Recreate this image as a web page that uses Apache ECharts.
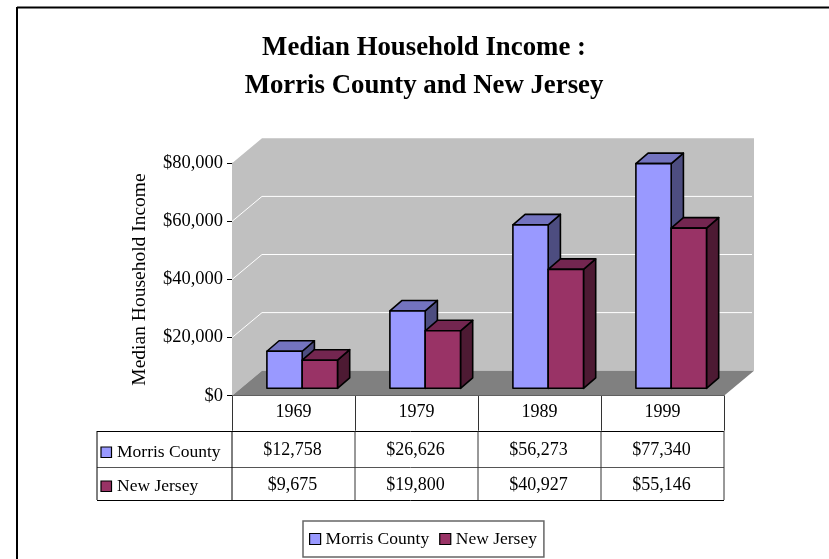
<!DOCTYPE html>
<html>
<head>
<meta charset="utf-8">
<style>html,body{margin:0;padding:0;background:#fff}#main{width:829px;height:559px}</style>
<script src="https://cdn.jsdelivr.net/npm/echarts@6/dist/echarts.min.js"></script>
</head>
<body>
<div id="main"></div>
<script>
var years = ['1969', '1979', '1989', '1999'];
var morris = [12758, 26626, 56273, 77340];
var newJersey = [9675, 19800, 40927, 55146];
var morrisLabels = ['$12,758', '$26,626', '$56,273', '$77,340'];
var jerseyLabels = ['$9,675', '$19,800', '$40,927', '$55,146'];
var gridValues = [20000, 40000, 60000];

var fontName = '"Liberation Serif", "Times New Roman", serif';
var depthX = 30, depthY = 25;
var barDepthX = 12.2, barDepthY = 10.5;
var barShiftX = 8.7, barShiftY = 7.4;
var barWidth = 35.3;
var rowY = [450, 485];

function barRender(side, front, top, dark) {
    return function (params, api) {
        var p = api.coord([api.value(0), api.value(1)]);
        var base = api.coord([api.value(0), 0]);
        var cx = p[0] + barShiftX;
        var x0 = side < 0 ? cx - barWidth : cx;
        var x1 = x0 + barWidth;
        var yt = p[1] - barShiftY;
        var yb = base[1] - barShiftY;
        var line = {stroke: '#000', lineWidth: 1.6, lineJoin: 'round'};
        return {type: 'group', children: [
            {type: 'polygon', shape: {points: [[x1, yt], [x1 + barDepthX, yt - barDepthY], [x1 + barDepthX, yb - barDepthY], [x1, yb]]},
                style: Object.assign({fill: dark}, line)},
            {type: 'polygon', shape: {points: [[x0, yt], [x0 + barDepthX, yt - barDepthY], [x1 + barDepthX, yt - barDepthY], [x1, yt]]},
                style: Object.assign({fill: top}, line)},
            {type: 'rect', shape: {x: x0, y: yt, width: barWidth, height: yb - yt},
                style: Object.assign({fill: front}, line)}
        ]};
    };
}

function wallRender(params, api) {
    var first = api.coord([0, 0]);
    var band = api.size([1, 0])[0];
    var left = first[0] - band / 2;
    var right = left + band * years.length;
    var bottom = first[1];
    var top = api.coord([0, 80000])[1];
    var children = [
        {type: 'polygon', shape: {points: [[left, top], [left + depthX, top - depthY], [right + depthX, top - depthY], [right + depthX, bottom - depthY], [left + depthX, bottom - depthY], [left, bottom]]},
            style: {fill: '#c0c0c0'}},
        {type: 'polygon', shape: {points: [[left, bottom], [left + depthX, bottom - depthY], [right + depthX, bottom - depthY], [right, bottom]]},
            style: {fill: '#808080'}}
    ];
    gridValues.forEach(function (v) {
        var y = api.coord([0, v])[1];
        children.push({type: 'polyline', shape: {points: [[left, y], [left + depthX, y - depthY], [right + depthX - 2, y - depthY]]},
            style: {fill: null, stroke: '#fff', lineWidth: 1}});
    });
    return {type: 'group', children: children};
}

function tableRender(params, api) {
    var i = api.value(0);
    var x = api.coord([i, 0])[0];
    var band = api.size([1, 0])[0];
    var cell = function (txt, y) {
        return {type: 'text', x: x - 1, y: y, style: {text: txt, fill: '#000', font: '18px ' + fontName, align: 'center', verticalAlign: 'middle'}};
    };
    return {type: 'group', children: [
        cell(morrisLabels[i], rowY[0]),
        cell(jerseyLabels[i], rowY[1]),
        {type: 'line', shape: {x1: x + band / 2, y1: 431, x2: x + band / 2, y2: 500}, style: {stroke: '#333', lineWidth: 1}}
    ]};
}

function hline(y, color) {
    return {type: 'line', shape: {x1: 97, y1: y, x2: 724, y2: y}, style: {stroke: color, lineWidth: 1}};
}

function swatch(y, color) {
    return {type: 'rect', shape: {x: 101, y: y, width: 10.5, height: 10.5}, style: {fill: color, stroke: '#000', lineWidth: 1.2}};
}

function rowName(txt, y) {
    return {type: 'text', x: 117, y: y, style: {text: txt, fill: '#000', font: '17.5px ' + fontName, verticalAlign: 'middle'}};
}

var chart = echarts.init(document.getElementById('main'));
chart.setOption({
    animation: false,
    title: {
        text: 'Median Household Income :\nMorris County and New Jersey',
        left: 419,
        top: 24,
        textAlign: 'center',
        textStyle: {fontFamily: fontName, fontSize: 26.8, fontWeight: 'bold', color: '#000', lineHeight: 38, align: 'center'}
    },
    legend: {
        data: ['Morris County', 'New Jersey'],
        left: 303,
        top: 521,
        padding: [9, 7, 9, 6],
        itemWidth: 11,
        itemHeight: 11,
        itemGap: 10,
        icon: 'rect',
        borderColor: '#666',
        borderWidth: 1.5,
        itemStyle: {borderColor: '#000', borderWidth: 1.2},
        textStyle: {fontFamily: fontName, fontSize: 17.5, color: '#000'}
    },
    grid: {left: 232, right: 105, top: 163.3, height: 232.4},
    xAxis: {
        type: 'category',
        data: years,
        axisLine: {lineStyle: {color: '#000', width: 1}},
        axisTick: {show: true, length: 35, lineStyle: {color: '#333', width: 1}},
        axisLabel: {color: '#000', fontFamily: fontName, fontSize: 18, margin: 8}
    },
    yAxis: {
        type: 'value',
        min: 0,
        max: 80000,
        interval: 20000,
        name: 'Median Household Income',
        nameLocation: 'middle',
        nameGap: 82,
        nameTextStyle: {color: '#000', fontFamily: fontName, fontSize: 19.5},
        splitLine: {show: false},
        axisLine: {show: true, lineStyle: {color: '#000', width: 1}},
        axisTick: {show: true, length: 5, lineStyle: {color: '#000', width: 1}},
        axisLabel: {color: '#000', fontFamily: fontName, fontSize: 18.5, margin: 9, formatter: function (v) {
            return '$' + v.toLocaleString('en-US');
        }}
    },
    series: [
        {type: 'custom', name: 'wall', silent: true, clip: false, z: 1, renderItem: wallRender, data: [[0, 0]], encode: {x: 0, y: 1}},
        {type: 'custom', name: 'Morris County', clip: false, z: 2, itemStyle: {color: '#9999ff'},
            renderItem: barRender(-1, '#9999ff', '#7373bf', '#4d4d80'),
            data: morris.map(function (v, i) { return [i, v]; }), encode: {x: 0, y: 1}},
        {type: 'custom', name: 'New Jersey', clip: false, z: 3, itemStyle: {color: '#993366'},
            renderItem: barRender(1, '#993366', '#732650', '#4d1a33'),
            data: newJersey.map(function (v, i) { return [i, v]; }), encode: {x: 0, y: 1}},
        {type: 'custom', name: 'table', silent: true, clip: false, z: 4, renderItem: tableRender,
            data: years.map(function (y, i) { return [i, 0]; }), encode: {x: 0, y: 1}}
    ],
    graphic: [
        {type: 'line', shape: {x1: 17, y1: 7.5, x2: 829, y2: 7.5}, style: {stroke: '#000', lineWidth: 2}},
        {type: 'line', shape: {x1: 17, y1: 7, x2: 17, y2: 559}, style: {stroke: '#000', lineWidth: 2}},
        hline(431.5, '#000'),
        hline(467.5, '#555'),
        hline(500.5, '#000'),
        {type: 'line', shape: {x1: 97, y1: 431, x2: 97, y2: 500}, style: {stroke: '#000', lineWidth: 1}},
        {type: 'line', shape: {x1: 232, y1: 431, x2: 232, y2: 500}, style: {stroke: '#000', lineWidth: 1}},
        swatch(447, '#9999ff'),
        swatch(481, '#993366'),
        rowName('Morris County', 452),
        rowName('New Jersey', 486)
    ]
});
</script>
</body>
</html>
